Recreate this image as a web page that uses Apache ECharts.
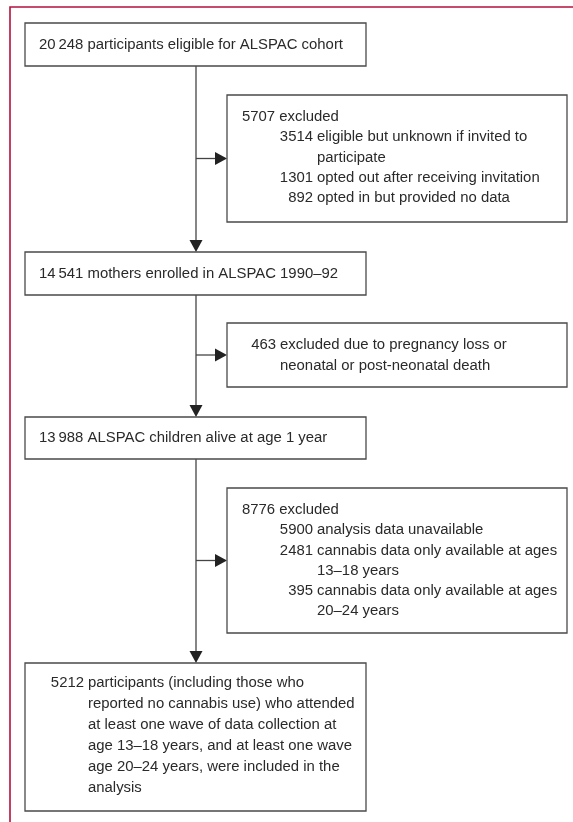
<!DOCTYPE html>
<html>
<head>
<meta charset="utf-8">
<script src="https://cdn.jsdelivr.net/npm/echarts@6/dist/echarts.min.js"></script>
<style>
html, body { margin: 0; padding: 0; background: #fff; }
#chart { width: 573px; height: 822px; }
</style>
</head>
<body>
<div id="chart"></div>
<script>
// 主流程人数（自上而下）
var mainCounts = [20248, 14541, 13988, 5212];
var mainText = [
	['participants eligible for ALSPAC cohort'],
	['mothers enrolled in ALSPAC 1990–92'],
	['ALSPAC children alive at age 1 year'],
	['participants (including those who',
	 'reported no cannabis use) who attended',
	 'at least one wave of data collection at',
	 'age 13–18 years, and at least one wave',
	 'age 20–24 years, were included in the',
	 'analysis']
];
// 排除人数
var exclCounts = [5707, 463, 8776];
var exclText = [
	['excluded'],
	['excluded due to pregnancy loss or', 'neonatal or post-neonatal death'],
	['excluded']
];
// 排除原因明细
var reasonCounts = [[3514, 1301, 892], [], [5900, 2481, 395]];
var reasonText = [
	[['eligible but unknown if invited to', 'participate'],
	 ['opted out after receiving invitation'],
	 ['opted in but provided no data']],
	[],
	[['analysis data unavailable'],
	 ['cannabis data only available at ages', '13–18 years'],
	 ['cannabis data only available at ages', '20–24 years']]
];

// 版式
var W = 573, H = 822;
var trunkX = 196;
var mainX = 25, mainW = 341;
var exclX = 227, exclW = 340;
var mainPos = [{ y: 23, h: 43 }, { y: 252, h: 43 }, { y: 417, h: 42 }, { y: 663, h: 148 }];
var exclPos = [{ y: 95, h: 127 }, { y: 323, h: 64 }, { y: 488, h: 145 }];
var FONT_FAMILY = '"Liberation Sans", Arial, sans-serif';
var FONT_SIZE = 14.9;
var TEXT_COLOR = '#2a2a2a';
var LINE_COLOR = '#444';

// 五位数用细空格分隔
function fmt(n) {
	var s = String(n);
	return s.length > 4 ? s.replace(/\B(?=(\d{3})+(?!\d))/g, '\u2009') : s;
}

// 数字右对齐 + 悬挂缩进文本
function hanging(list, numRight, textX, y0, step, num, lines) {
	list.push({ x: numRight, y: y0, s: fmt(num), align: 'right' });
	lines.forEach(function (ln, k) {
		list.push({ x: textX, y: y0 + k * step, s: ln, align: 'left' });
	});
	return y0 + lines.length * step;
}

var boxes = [];
mainCounts.forEach(function (c, i) {
	var p = mainPos[i];
	var texts = [];
	if (mainText[i].length == 1) {
		texts.push({ x: mainX + 14, y: p.y + p.h / 2, s: fmt(c) + ' ' + mainText[i][0], align: 'left' });
	} else {
		hanging(texts, mainX + 59, mainX + 63, p.y + 20, 21, c, mainText[i]);
	}
	boxes.push({ x: mainX, y: p.y, w: mainW, h: p.h, texts: texts });
});
exclCounts.forEach(function (c, i) {
	var p = exclPos[i];
	var texts = [];
	if (!reasonCounts[i].length) {
		hanging(texts, exclX + 49, exclX + 53, p.y + 22, 21, c, exclText[i]);
	} else {
		texts.push({ x: exclX + 15, y: p.y + 22, s: fmt(c) + ' ' + exclText[i][0], align: 'left' });
		var y = p.y + 22 + 20.2;
		reasonCounts[i].forEach(function (rc, j) {
			y = hanging(texts, exclX + 86, exclX + 90, y, 20.2, rc, reasonText[i][j]);
		});
	}
	boxes.push({ x: exclX, y: p.y, w: exclW, h: p.h, texts: texts });
});

// 连接线：主干竖线 + 分支横线
var links = [];
for (var i = 0; i < mainPos.length - 1; i++) {
	links.push([trunkX, mainPos[i].y + mainPos[i].h, trunkX, mainPos[i + 1].y]);
	var my = exclPos[i].y + exclPos[i].h / 2;
	links.push([trunkX, my, exclX, my]);
}

function renderBox(params, api) {
	var b = boxes[api.value(0)];
	var p0 = api.coord([b.x, b.y]);
	var p1 = api.coord([b.x + b.w, b.y + b.h]);
	var children = [{
		type: 'rect',
		shape: { x: p0[0], y: p0[1], width: p1[0] - p0[0], height: p1[1] - p0[1] },
		style: { fill: '#fff', stroke: '#4a4a4a', lineWidth: 1.3 }
	}];
	b.texts.forEach(function (t) {
		var p = api.coord([t.x, t.y]);
		children.push({
			type: 'text', x: p[0], y: p[1],
			style: {
				text: t.s, align: t.align, verticalAlign: 'middle',
				fill: TEXT_COLOR, fontFamily: FONT_FAMILY, fontSize: FONT_SIZE
			}
		});
	});
	return { type: 'group', children: children };
}

function renderLink(params, api) {
	var l = links[api.value(0)];
	var a = api.coord([l[0], l[1]]);
	var b = api.coord([l[2], l[3]]);
	var dx = b[0] - a[0], dy = b[1] - a[1];
	var len = Math.sqrt(dx * dx + dy * dy);
	var ux = dx / len, uy = dy / len;
	var hl = 12, hw = 6.5;
	var bx = b[0] - ux * hl, by = b[1] - uy * hl;
	return {
		type: 'group',
		children: [{
			type: 'line',
			shape: { x1: a[0], y1: a[1], x2: bx, y2: by },
			style: { stroke: LINE_COLOR, lineWidth: 1.3 }
		}, {
			type: 'polygon',
			shape: { points: [[b[0], b[1]], [bx - uy * hw, by + ux * hw], [bx + uy * hw, by - ux * hw]] },
			style: { fill: '#222' }
		}]
	};
}

var myChart = echarts.init(document.getElementById('chart'));
myChart.setOption({
	animation: false,
	grid: { left: 0, right: 0, top: 0, bottom: 0 },
	xAxis: { type: 'value', min: 0, max: W, show: false },
	yAxis: { type: 'value', min: 0, max: H, inverse: true, show: false },
	graphic: [{
		type: 'polyline',
		shape: { points: [[10, H], [10, 7], [W, 7]] },
		style: { stroke: '#b5103d', lineWidth: 1.6, fill: null },
		z: 10
	}],
	series: [{
		type: 'custom',
		renderItem: renderLink,
		data: links.map(function (l, i) { return [i]; }),
		z: 1
	}, {
		type: 'custom',
		renderItem: renderBox,
		data: boxes.map(function (b, i) { return [i]; }),
		z: 2
	}]
});
</script>
</body>
</html>
